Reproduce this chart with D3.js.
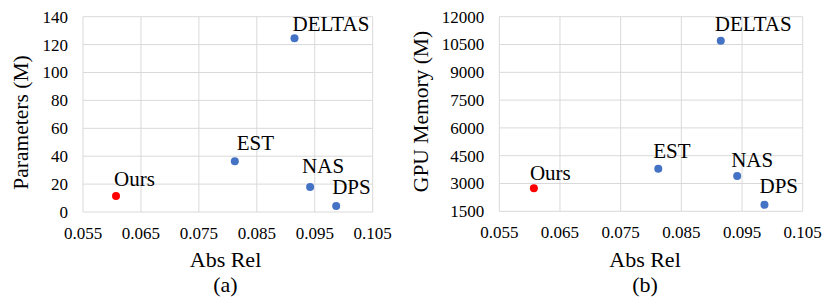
<!DOCTYPE html>
<html>
<head>
<meta charset="utf-8">
<script src="https://cdn.jsdelivr.net/npm/d3@7"></script>
<style>
	body { margin: 0; background: #fff; }
	svg { display: block; }
	text { font-family: "Liberation Serif", "Times New Roman", serif; fill: #000; }
</style>
</head>
<body>
<svg id="chart" width="832" height="307"></svg>
<script>
// data
let methods = ['Ours', 'EST', 'DELTAS', 'NAS', 'DPS'];
let absRel = [0.0607, 0.0812, 0.0915, 0.0942, 0.0987];
let params = [11.5, 36.3, 124.5, 17.9, 4.3];
let gpuMem = [2750, 3800, 10700, 3400, 1850];
let xTicks = [0.055, 0.065, 0.075, 0.085, 0.095, 0.105];
let paramTicks = [0, 20, 40, 60, 80, 100, 120, 140];
let memTicks = [1500, 3000, 4500, 6000, 7500, 9000, 10500, 12000];

// label nudges (dx, dy) from each dot, per panel
let labelOffA = [[-2, -9.5], [2, -11], [-2, -7], [-8, -14], [-4, -12]];
let labelOffB = [[-4, -8], [-5, -11], [-6, -10], [-6, -9], [-5, -12]];

let svg = d3.select('#chart');

let panels = [
	{
		vals: params, ticks: paramTicks, yTitle: 'Parameters (M)', cap: '(a)',
		left: 83, right: 372.7, top: 16.7, bottom: 212,
		yTitleX: 20, yTitleY: 122.5, capX: 225.5, off: labelOffA
	},
	{
		vals: gpuMem, ticks: memTicks, yTitle: 'GPU Memory (M)', cap: '(b)',
		left: 499.3, right: 802.7, top: 16.7, bottom: 211.3,
		yTitleX: 420, yTitleY: 111.5, capX: 645, off: labelOffB
	}
];

panels.forEach(drawPanel);

function drawPanel(p) {
	let x = d3.scaleLinear().domain([0.055, 0.105]).range([p.left, p.right]);
	let y = d3.scaleLinear()
		.domain([p.ticks[0], p.ticks[p.ticks.length - 1]])
		.range([p.bottom, p.top]);

	let g = svg.append('g');

	// grids
	g.append('g').selectAll('line').data(xTicks).join('line')
		.attr('x1', d => x(d)).attr('x2', d => x(d))
		.attr('y1', p.top).attr('y2', p.bottom)
		.attr('stroke', '#d9d9d9').attr('stroke-width', 1);
	g.append('g').selectAll('line').data(p.ticks).join('line')
		.attr('x1', p.left).attr('x2', p.right)
		.attr('y1', d => y(d)).attr('y2', d => y(d))
		.attr('stroke', '#d9d9d9').attr('stroke-width', 1);

	// tick labels
	g.append('g').selectAll('text').data(xTicks).join('text')
		.attr('x', d => x(d)).attr('y', p.bottom + 27)
		.attr('text-anchor', 'middle')
		.style('font-size', '17px')
		.text(d3.format('.3f'));
	g.append('g').selectAll('text').data(p.ticks).join('text')
		.attr('x', p.left - 15).attr('y', d => y(d))
		.attr('dy', '0.35em')
		.attr('text-anchor', 'end')
		.style('font-size', '17px')
		.text(d => d);

	// titles
	g.append('text')
		.attr('x', p.capX).attr('y', 266.5)
		.attr('text-anchor', 'middle')
		.style('font-size', '22px')
		.text('Abs Rel');
	g.append('text')
		.attr('x', p.capX).attr('y', 291.5)
		.attr('text-anchor', 'middle')
		.style('font-size', '22px')
		.text(p.cap);
	g.append('text')
		.attr('transform', `translate(${p.yTitleX},${p.yTitleY}) rotate(-90)`)
		.attr('dy', '0.35em')
		.attr('text-anchor', 'middle')
		.style('font-size', '21.5px')
		.text(p.yTitle);

	// points
	let idx = d3.range(methods.length);
	g.append('g').selectAll('circle').data(idx).join('circle')
		.attr('cx', i => x(absRel[i]))
		.attr('cy', i => y(p.vals[i]))
		.attr('r', 4)
		.attr('fill', i => methods[i] === 'Ours' ? '#ff0000' : '#4472c4');

	g.append('g').selectAll('text').data(idx).join('text')
		.attr('x', i => x(absRel[i]) + p.off[i][0])
		.attr('y', i => y(p.vals[i]) + p.off[i][1])
		.style('font-size', '21px')
		.text(i => methods[i]);
}
</script>
</body>
</html>
